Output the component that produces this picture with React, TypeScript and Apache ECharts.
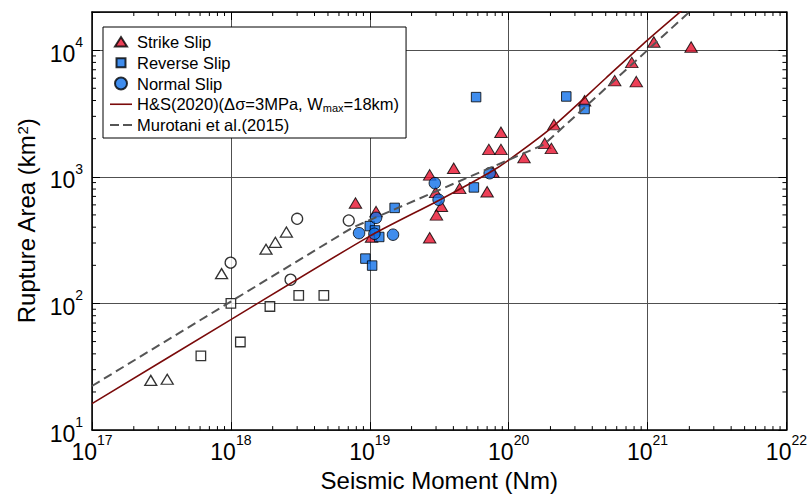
import { useEffect, useRef } from 'react';
import * as echarts from 'echarts';

const X_MIN = 1e17;
const X_MAX = 1e22;
const Y_MIN = 10;
const Y_MAX = 2e4;

const strikeSlip: [number, number][] = [
  [7.89e18, 621], [1.11e19, 531], [1.03e19, 335], [2.7e19, 1035], [4.02e19, 1167],
  [2.98e19, 753], [3.28e19, 585], [3.02e19, 500], [2.7e19, 330], [4.44e19, 810],
  [7.0e19, 762], [8.8e19, 2250], [7.2e19, 1645], [8.8e19, 1645], [7.7e19, 1090],
  [1.29e20, 1416], [1.82e20, 1835], [2.03e20, 1675], [2.12e20, 2583], [3.52e20, 3980],
  [5.8e20, 5740], [8.3e20, 5640], [7.7e20, 8000], [1.11e21, 11600], [2.06e21, 10590],
];

const reverseSlip: [number, number][] = [
  [1.51e19, 568], [1.0e19, 408], [1.09e19, 377], [1.17e19, 335], [9.3e18, 226],
  [1.04e19, 199], [5.62e19, 824], [5.83e19, 4257], [2.6e20, 4306], [3.52e20, 3430],
];

const normalSlip: [number, number][] = [
  [8.37e18, 359], [1.11e19, 474], [1.08e19, 355], [1.47e19, 349], [2.94e19, 891],
  [3.13e19, 659], [7.3e19, 1067],
];

const openTriangles: [number, number][] = [
  [2.65e17, 24.7], [3.48e17, 25.2], [8.57e17, 172], [1.79e18, 268], [2.09e18, 304], [2.51e18, 366],
];

const openCircles: [number, number][] = [
  [9.96e17, 210], [2.69e18, 154], [3.0e18, 466], [7.06e18, 452],
];

const openSquares: [number, number][] = [
  [1.0e18, 100], [6.08e17, 38.5], [1.17e18, 49.6], [1.91e18, 94.6], [3.08e18, 115.6], [4.67e18, 115.6],
];

const hsCurve: [number, number][] = [
  [1e17, 16.2], [1e18, 74.5], [1e19, 340], [3.16e19, 653], [7.3e19, 1080], [1e20, 1355],
  [2e20, 2400], [5e20, 6000], [1e21, 12000], [2.3e21, 26300],
];

const murotaniLine: [number, number][] = [
  [1e17, 22.3], [7.5e18, 397], [1.8e20, 1800], [2.2e21, 22000],
];

const NAME_SS = 'Strike Slip';
const NAME_RS = 'Reverse Slip';
const NAME_NS = 'Normal Slip';
const NAME_HS = 'H&S(2020)(Δσ=3MPa, Wmax=18km)';
const NAME_MU = 'Murotani et al.(2015)';

const RED = '#e8102d';
const BLUE = '#1070e8';
const HS_COLOR = '#7a0a0a';
const MU_COLOR = '#555555';

const xMinorTicks: number[] = [];
for (let e = 17; e < 22; e++) for (let m = 2; m <= 9; m++) xMinorTicks.push(m * Math.pow(10, e));
const yMinorTicks: number[] = [];
for (let e = 1; e < 5; e++) for (let m = 2; m <= 9; m++) {
  const v = m * Math.pow(10, e);
  if (v < Y_MAX) yMinorTicks.push(v);
}

const expLabel = (v: number) => {
  const e = Math.log10(v);
  const r = Math.round(e);
  if (Math.abs(e - r) > 1e-6) return '';
  return `{b|10}{s|${r}}`;
};

const labelRich = {
  b: { fontSize: 23, lineHeight: 30, verticalAlign: 'bottom', color: '#000' },
  s: { fontSize: 14, lineHeight: 14, verticalAlign: 'top', color: '#000' },
};

const tickStyle = { stroke: '#000', lineWidth: 1 };

export default function App() {
  const ref = useRef<HTMLDivElement>(null);
  useEffect(() => {
    const chart = echarts.init(ref.current!, null, { renderer: 'svg' });
    const open = { color: '#fff', borderColor: '#000', borderWidth: 1.3 };
    const option: any = {
      animation: false,
      backgroundColor: '#fff',
      textStyle: { fontFamily: 'Liberation Sans, Arial, sans-serif', color: '#000' },
      grid: { left: 92, right: 23, top: 12, bottom: 64, containLabel: false },
      legend: {
        left: 103,
        top: 27,
        orient: 'vertical',
        selectedMode: false,
        backgroundColor: '#fff',
        borderColor: '#000',
        borderWidth: 1,
        borderRadius: 0,
        padding: [6, 7, 4, 7],
        itemWidth: 22,
        itemHeight: 14,
        itemGap: 2.75,
        textStyle: {
          fontSize: 16.5,
          lineHeight: 18,
          color: '#000',
          rich: { sub: { fontSize: 11, lineHeight: 11, verticalAlign: 'bottom', color: '#000' } },
        },
        formatter: (name: string) => (name === NAME_HS ? 'H&S(2020)(Δσ=3MPa, W{sub|max}=18km)' : name),
        data: [
          { name: NAME_SS, icon: 'path://M0,0M14,14M1,11.5L7,2L13,11.5Z' },
          { name: NAME_RS, icon: 'path://M0,0M14,14M2.5,2.5L11.5,2.5L11.5,11.5L2.5,11.5Z' },
          { name: NAME_NS, icon: 'path://M0,0M14,14M1,7A6,6 0 1 1 13,7A6,6 0 1 1 1,7Z' },
          { name: NAME_HS, icon: 'path://M0,0L22,0L22,1.6L0,1.6Z', itemStyle: { color: HS_COLOR, borderWidth: 0 } },
          { name: NAME_MU, icon: 'path://M0,0L9,0L9,2L0,2ZM13,0L22,0L22,2L13,2Z', itemStyle: { color: MU_COLOR, borderWidth: 0 } },
        ],
      },
      xAxis: [
        {
          type: 'log', logBase: 10, min: X_MIN, max: X_MAX, splitNumber: 5,
          name: 'Seismic Moment (Nm)', nameLocation: 'middle', nameGap: 33,
          nameTextStyle: { fontSize: 24, color: '#000' },
          axisLine: { show: true, lineStyle: { color: '#000', width: 1.5 } },
          axisTick: { show: true, inside: true, length: 8, lineStyle: { color: '#000', width: 1 } },
          axisLabel: { formatter: expLabel, margin: 3, rich: labelRich },
          splitLine: { show: true, lineStyle: { color: '#505050', width: 1 } },
        },
        {
          type: 'log', logBase: 10, min: X_MIN, max: X_MAX, splitNumber: 5, position: 'top',
          axisLine: { show: true, lineStyle: { color: '#000', width: 1.5 } },
          axisTick: { show: true, inside: true, length: 8, lineStyle: { color: '#000', width: 1 } },
          axisLabel: { show: false },
          splitLine: { show: false },
        },
      ],
      yAxis: [
        {
          type: 'log', logBase: 10, min: Y_MIN, max: Y_MAX, splitNumber: 5,
          name: 'Rupture Area (km{s|2})', nameLocation: 'middle', nameGap: 52,
          nameTextStyle: {
            fontSize: 24, color: '#000',
            rich: { s: { fontSize: 15, verticalAlign: 'top', color: '#000' } },
          },
          axisLine: { show: true, lineStyle: { color: '#000', width: 1.5 } },
          axisTick: { show: true, inside: true, length: 8, lineStyle: { color: '#000', width: 1 } },
          axisLabel: { formatter: expLabel, margin: 9, rich: labelRich },
          splitLine: { show: true, lineStyle: { color: '#505050', width: 1 } },
        },
        {
          type: 'log', logBase: 10, min: Y_MIN, max: Y_MAX, splitNumber: 5, position: 'right',
          axisLine: { show: true, lineStyle: { color: '#000', width: 1.5 } },
          axisTick: { show: true, inside: true, length: 8, lineStyle: { color: '#000', width: 1 } },
          axisLabel: { show: false },
          splitLine: { show: false },
        },
      ],
      series: [
        {
          type: 'scatter', name: NAME_SS, data: strikeSlip, symbol: 'triangle', symbolSize: [12.5, 10.5],
          itemStyle: { color: RED, borderColor: '#000', borderWidth: 1 }, z: 2,
        },
        {
          type: 'scatter', name: NAME_RS, data: reverseSlip, symbol: 'rect', symbolSize: 9.5,
          itemStyle: { color: BLUE, borderColor: '#000', borderWidth: 1 }, z: 2,
        },
        {
          type: 'scatter', name: NAME_NS, data: normalSlip, symbol: 'circle', symbolSize: 11.5,
          itemStyle: { color: BLUE, borderColor: '#000', borderWidth: 1 }, z: 2,
        },
        { type: 'scatter', data: openTriangles, symbol: 'triangle', symbolSize: [12, 10], itemStyle: open, z: 2 },
        { type: 'scatter', data: openCircles, symbol: 'circle', symbolSize: 11, itemStyle: open, z: 2 },
        { type: 'scatter', data: openSquares, symbol: 'rect', symbolSize: 9.5, itemStyle: open, z: 2 },
        {
          type: 'line', name: NAME_HS, data: hsCurve, symbol: 'none', showSymbol: false, smooth: 0.25,
          lineStyle: { color: HS_COLOR, width: 1.6 }, itemStyle: { color: HS_COLOR }, z: 3,
        },
        {
          type: 'line', name: NAME_MU, data: murotaniLine, symbol: 'none', showSymbol: false,
          lineStyle: { color: MU_COLOR, width: 2, type: [9, 5] }, itemStyle: { color: MU_COLOR }, z: 3,
        },
        {
          type: 'custom', silent: true, z: 10, clip: false,
          data: xMinorTicks.map((v) => [v, Y_MIN]),
          renderItem: (_p: any, api: any) => {
            const v = api.value(0);
            const b = api.coord([v, Y_MIN]);
            const t = api.coord([v, Y_MAX]);
            return {
              type: 'group',
              children: [
                { type: 'line', shape: { x1: b[0], y1: b[1], x2: b[0], y2: b[1] - 4 }, style: tickStyle },
                { type: 'line', shape: { x1: t[0], y1: t[1], x2: t[0], y2: t[1] + 4 }, style: tickStyle },
              ],
            };
          },
        },
        {
          type: 'custom', silent: true, z: 10, clip: false,
          data: yMinorTicks.map((v) => [X_MIN, v]),
          renderItem: (_p: any, api: any) => {
            const v = api.value(1);
            const l = api.coord([X_MIN, v]);
            const r = api.coord([X_MAX, v]);
            return {
              type: 'group',
              children: [
                { type: 'line', shape: { x1: l[0], y1: l[1], x2: l[0] + 4, y2: l[1] }, style: tickStyle },
                { type: 'line', shape: { x1: r[0], y1: r[1], x2: r[0] - 4, y2: r[1] }, style: tickStyle },
              ],
            };
          },
        },
      ],
    };
    chart.setOption(option);
    return () => chart.dispose();
  }, []);
  return <div ref={ref} style={{ position: 'fixed', left: 0, top: 0, width: 810, height: 497 }} />;
}
